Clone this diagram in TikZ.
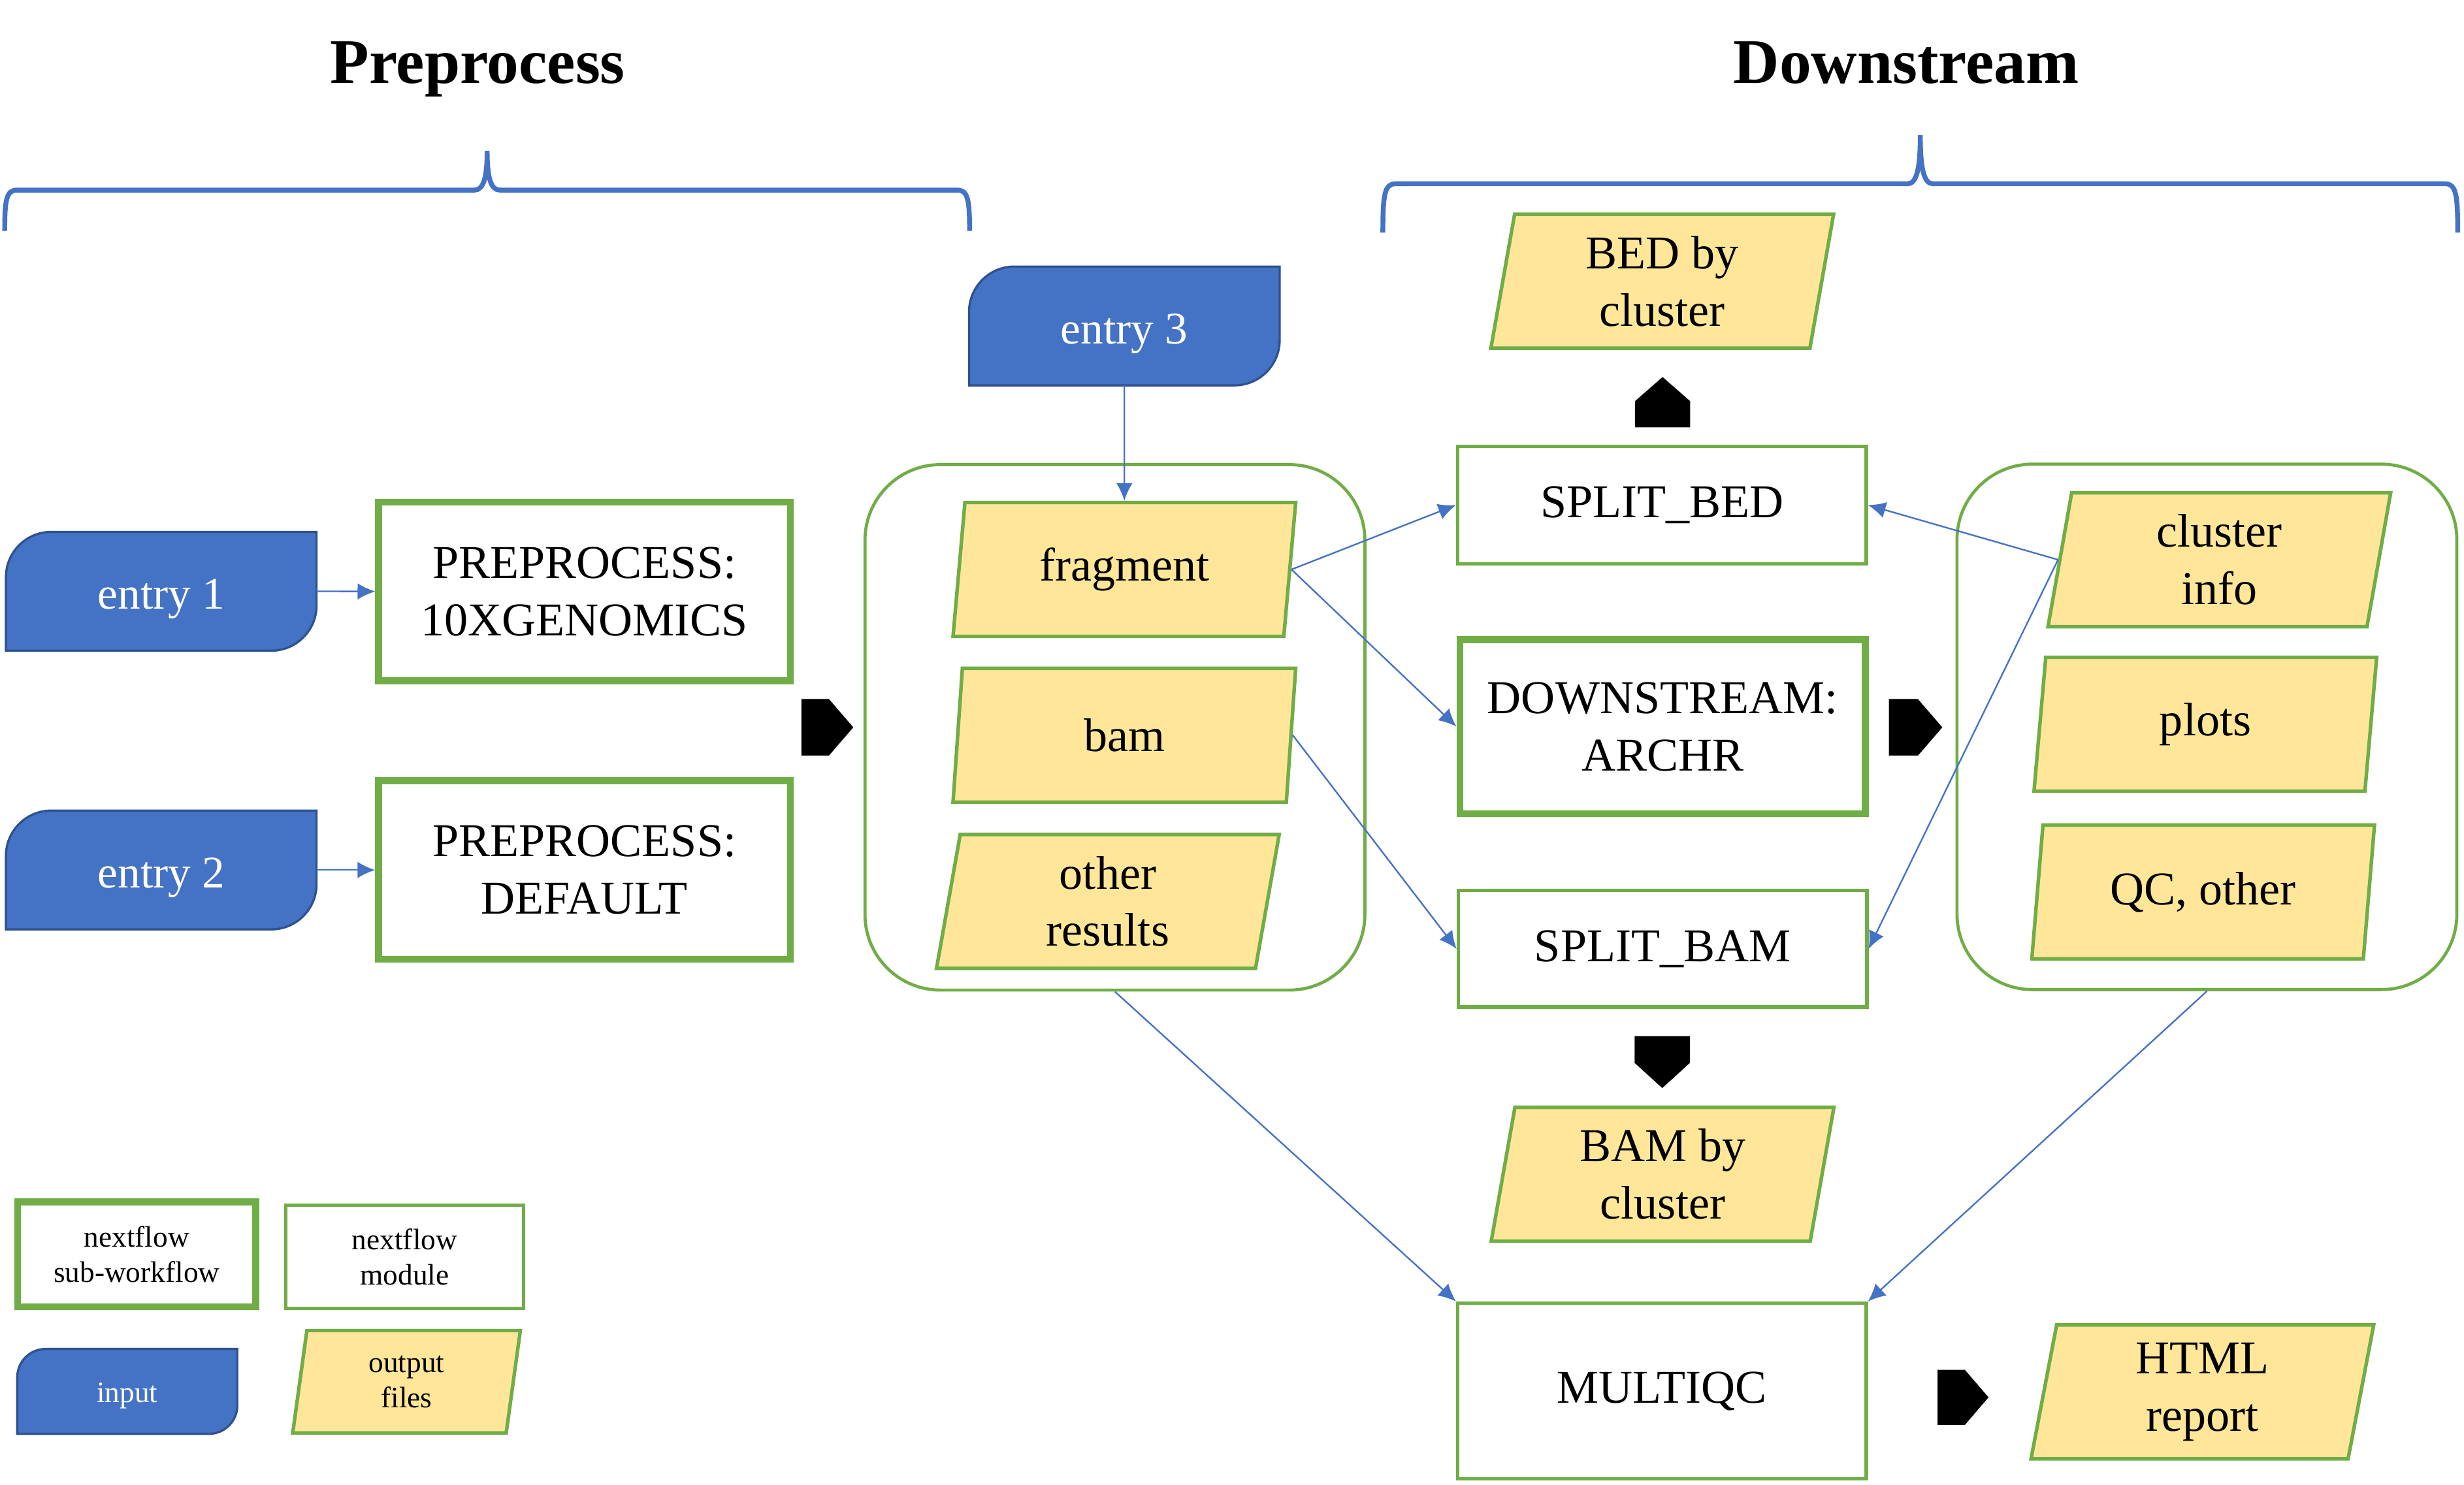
\documentclass[tikz,border=0pt]{standalone}
\usepackage{fontspec}
\setmainfont{Liberation Serif}
\usetikzlibrary{shapes.geometric,arrows.meta}
\pgfdeclarelayer{background}
\pgfsetlayers{background,main}
\definecolor{nfgreen}{HTML}{70AD47}
\definecolor{nfblue}{HTML}{4472C4}
\definecolor{nfdarkblue}{HTML}{2F528F}
\definecolor{nfyellow}{HTML}{FFE699}
% input shape: round top left and bottom right corners
\newcommand{\entryshape}[2]{%
\draw[nfdarkblue, line width=1pt, fill=nfblue] (#1.south west) -- ([yshift=-#2]#1.north west) arc[start angle=180, end angle=90, radius=#2] -- (#1.north east) -- ([yshift=#2]#1.south east) arc[start angle=0, end angle=-90, radius=#2] -- cycle;}

\begin{document}
\begin{tikzpicture}[x=0.025cm, y=0.025cm,
  boxtext/.style={font=\fontsize{21.3}{26}\selectfont, align=center},
  legendtext/.style={font=\fontsize{13.4}{16}\selectfont, align=center},
  titletext/.style={font=\fontsize{28.8}{34}\selectfont\bfseries, anchor=base},
  subwf/.style={draw=nfgreen, line width=3.1pt, fill=white, minimum width=6.55cm, minimum height=2.84cm, boxtext},
  modbox/.style={draw=nfgreen, line width=1.5pt, fill=white, minimum width=6.5cm, boxtext},
  inbox/.style={minimum width=4.94cm, minimum height=1.89cm, outer sep=0pt, text=white, text height=16.5pt, text depth=0.5pt, font=\fontsize{20.5}{25}\selectfont},
  outfile/.style={trapezium, trapezium left angle=76, trapezium right angle=104, trapezium stretches body, draw=nfgreen, line width=1.6pt, fill=nfyellow, minimum width=5.45cm, minimum height=2.13cm, inner sep=1pt, boxtext},
  grpbox/.style={draw=nfgreen, line width=1.4pt, rounded corners=1.2cm, minimum width=7.95cm, minimum height=8.36cm},
  conn/.style={nfblue, line width=0.7pt, -{Latex[length=2.8mm,width=2.6mm]}},
  bracket/.style={nfblue, line width=2.2pt}]
\useasboundingbox (0,0) rectangle (1568,-945);

% titles and braces
\node[titletext] (tpre) at (304,-53) {Preprocess};
\node[titletext] (tdown) at (1213,-53) {Downstream};
\draw[bracket] (3,-147) .. controls (3,-127) and (4,-121) .. (11,-121) -- (302,-121) .. controls (308,-121) and (310,-112) .. (310,-96) .. controls (310,-112) and (312,-121) .. (318,-121) -- (609,-121) .. controls (616,-121) and (617,-127) .. (617,-147);
\draw[bracket] (880,-148) .. controls (880,-124) and (881,-117) .. (888,-117) -- (1214,-117) .. controls (1220,-117) and (1222,-106) .. (1222,-86) .. controls (1222,-106) and (1224,-117) .. (1230,-117) -- (1556,-117) .. controls (1563,-117) and (1564,-124) .. (1564,-148);

% groups of outputs
\node[grpbox] (grp1) at (709.5,-463) {};
\node[grpbox] (grp2) at (1404.4,-462.7) {};

% preprocess
\node[inbox] (e1) at (102.6,-376.4) {entry 1};
\node[inbox] (e2) at (102.6,-553.8) {entry 2};
\node[inbox] (e3) at (715.5,-207.5) {entry 3};
\node[subwf] (pre10x) at (372,-376.5) {PREPROCESS:\\10XGENOMICS};
\node[subwf] (predef) at (372,-553.8) {PREPROCESS:\\DEFAULT};

\node[outfile] (frag) at (715.5,-362.5) {fragment};
\node[outfile] (bam) at (715.5,-468) {bam};
\node[outfile] (other) at (705,-573.8) {other\\results};

% downstream
\node[modbox, minimum height=1.875cm] (splitbed) at (1057.6,-321.5) {SPLIT\_BED};
\node[subwf, minimum width=6.45cm, minimum height=2.77cm] (archr) at (1058,-462.5) {DOWNSTREAM:\\ARCHR};
\node[modbox, minimum height=1.85cm] (splitbam) at (1058,-604) {SPLIT\_BAM};
\node[modbox, minimum height=2.8cm] (multiqc) at (1057.6,-885.5) {MULTIQC};

\node[outfile] (bedclu) at (1057.8,-179) {BED by\\cluster};
\node[outfile] (bamclu) at (1058,-747.5) {BAM by\\cluster};
\node[outfile] (clinfo) at (1412.3,-356.3) {cluster\\info};
\node[outfile] (plots) at (1403.4,-461) {plots};
\node[outfile] (qcother) at (1402,-567.8) {QC, other};
\node[outfile] (html) at (1401.5,-886) {HTML\\report};

% black chevrons
\fill (510,-445) -- (527.5,-445) -- (543,-463) -- (527.5,-481) -- (510,-481) -- cycle;
\fill (1202,-445) -- (1220.5,-445) -- (1236,-463) -- (1220.5,-481) -- (1202,-481) -- cycle;
\fill (1040.4,-272) -- (1040.4,-255.4) -- (1058,-240) -- (1075.6,-255.4) -- (1075.6,-272) -- cycle;
\fill (1040.2,-659.6) -- (1040.2,-676.6) -- (1057.8,-692.6) -- (1075.4,-676.6) -- (1075.4,-659.6) -- cycle;
\fill (1233,-872) -- (1250.4,-872) -- (1265.4,-889.5) -- (1250.4,-907) -- (1233,-907) -- cycle;

% legend
\node[subwf, legendtext, minimum width=3.79cm, minimum height=1.665cm] (lsub) at (87,-798.4) {nextflow\\sub-workflow};
\node[modbox, legendtext, minimum width=3.775cm, minimum height=1.65cm] (lmod) at (257.5,-800) {nextflow\\module};
\node[inbox, legendtext, text height=10.5pt, text depth=0.5pt, minimum width=3.5cm, minimum height=1.35cm] (lin) at (81,-885.7) {input};
\node[outfile, legendtext, minimum width=3.62cm, minimum height=1.63cm] (lout) at (258.7,-879.6) {output\\files};

\begin{pgfonlayer}{background}
\entryshape{e1}{0.72cm}
\entryshape{e2}{0.72cm}
\entryshape{e3}{0.72cm}
\entryshape{lin}{0.45cm}
\end{pgfonlayer}

% connectors
\draw[conn] (e1.east) -- (pre10x.west);
\draw[conn] (e2.east) -- (predef.west);
\draw[conn] (e3.south) -- (frag.north);
\draw[conn] (frag.east) -- (splitbed.west);
\draw[conn] (frag.east) -- (archr.west);
\draw[conn] (bam.east) -- (splitbam.west);
\draw[conn] (clinfo.west) -- (splitbed.east);
\draw[conn] (clinfo.west) -- (splitbam.east);
\draw[conn] (grp1.south) -- (multiqc.north west);
\draw[conn] (grp2.south) -- (multiqc.north east);
\end{tikzpicture}
\end{document}
